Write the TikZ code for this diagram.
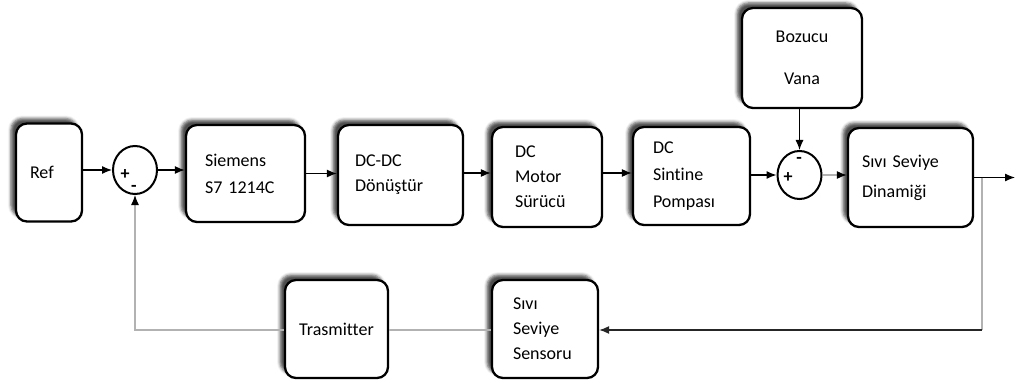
\documentclass[tikz,border=0pt]{standalone}
\usepackage{fontspec}
\setmainfont{Carlito}[Ligatures=NoCommon]
\usetikzlibrary{shadows.blur,arrows.meta,shapes.geometric}

\begin{document}
\begin{tikzpicture}[x=1pt,y=-1pt,
  blk/.style={draw=black, line width=2.3pt, rounded corners=11pt, fill=white,
    blur shadow={shadow xshift=-5pt, shadow yshift=5pt, shadow blur radius=3pt, shadow opacity=70},
    font=\fontsize{18}{26}\selectfont, inner ysep=0pt, minimum height=98pt},
  sumj/.style={draw=black, line width=2pt, ellipse, minimum width=44pt, minimum height=48pt, inner sep=0pt},
  sgn/.style={font=\fontsize{18}{18}\selectfont\bfseries, inner sep=0pt},
  arr/.style={-{Latex[length=10pt,width=8pt]}, line width=1.2pt},
  garr/.style={-{Latex[length=10pt,width=8pt,color=black]}, line width=1.2pt, draw=gray!60},
  gline/.style={line width=1.2pt, draw=gray!60}
]
\useasboundingbox (0,0) rectangle (1017,385);

% forward path blocks
\node[blk, minimum width=66pt, text width=38pt, inner xsep=14pt, align=left] (ref) at (49,172.5) {Ref};
\node[sumj] (s1) at (135,170) {};
\node[sgn] (s1p) at (125,175) {+};
\node[sgn] (s1m) at (134,188) {-};
\node[blk, text width=81pt, inner xsep=19pt, minimum height=97pt, align=left,
      font=\fontsize{18}{27}\selectfont] (siem) at (245.5,173.5) {Siemens\\S7 1214C};
\node[blk, text width=91pt, inner xsep=17pt, minimum height=100pt, align=left,
      font=\fontsize{18}{25}\selectfont] (dcdc) at (400.5,175) {DC-DC\\Dönüştür};
\node[blk, text width=64pt, inner xsep=23pt, minimum height=100pt, align=left,
      font=\fontsize{18}{25}\selectfont] (motor) at (547,177) {DC\\Motor\\Sürücü};
\node[blk, text width=77pt, inner xsep=20pt, minimum height=98pt, align=left,
      font=\fontsize{18}{27}\selectfont] (pump) at (691.5,176) {DC\\Sintine\\Pompası};
\node[sumj] (s2) at (799.5,175) {};
\node[sgn] (s2m) at (799,160) {-};
\node[sgn] (s2p) at (788,178) {+};
\node[blk, minimum width=120pt, minimum height=100pt, align=center,
      font=\fontsize{18}{42}\selectfont] (boz) at (802,58) {Bozucu\\Vana};
\node[blk, text width=97pt, inner xsep=14pt, minimum height=99pt, align=left,
      font=\fontsize{18}{30}\selectfont] (dyn) at (910.5,177.5) {Sıvı Seviye\\Dinamiği};

% feedback path blocks
\node[blk, minimum width=103pt, align=center] (trans) at (336.5,329) {Trasmitter};
\node[blk, text width=64pt, inner xsep=21pt, align=left,
      font=\fontsize{18}{25}\selectfont] (sens) at (545,329) {Sıvı\\Seviye\\Sensoru};

\coordinate (out) at (1015,177.5);
\coordinate (br) at (982,177.5);
\coordinate (bc) at (982,330);

% forward connectors
\draw[arr] (ref.east |- s1) -- (s1.west);
\draw[arr] (s1.east) -- (s1.east -| siem.west);
\draw[arr] (siem.east) -- (siem.east -| dcdc.west);
\draw[arr] ([yshift=2pt]dcdc.east) -- ([yshift=2pt]dcdc.east -| motor.west);
\draw[arr] ([yshift=4pt]motor.east) -- ([yshift=4pt]motor.east -| pump.west);
\draw[arr] (pump.east |- s2) -- (s2.west);
\draw[garr] (s2.east) -- (s2.east -| dyn.west);
\draw[arr] (s2.north |- boz.south) -- (s2.north);
\draw[arr] (dyn.east) -- (out);

% feedback connectors
\draw[gline] (br) -- (bc);
\draw[arr, draw=gray!30!black] (bc) -- (bc -| sens.east);
\draw[gline] (sens.west |- bc) -- (trans.east |- bc);
\draw[garr] (trans.west |- bc) -- (s1 |- bc) -- (s1.south);
\end{tikzpicture}
\end{document}
